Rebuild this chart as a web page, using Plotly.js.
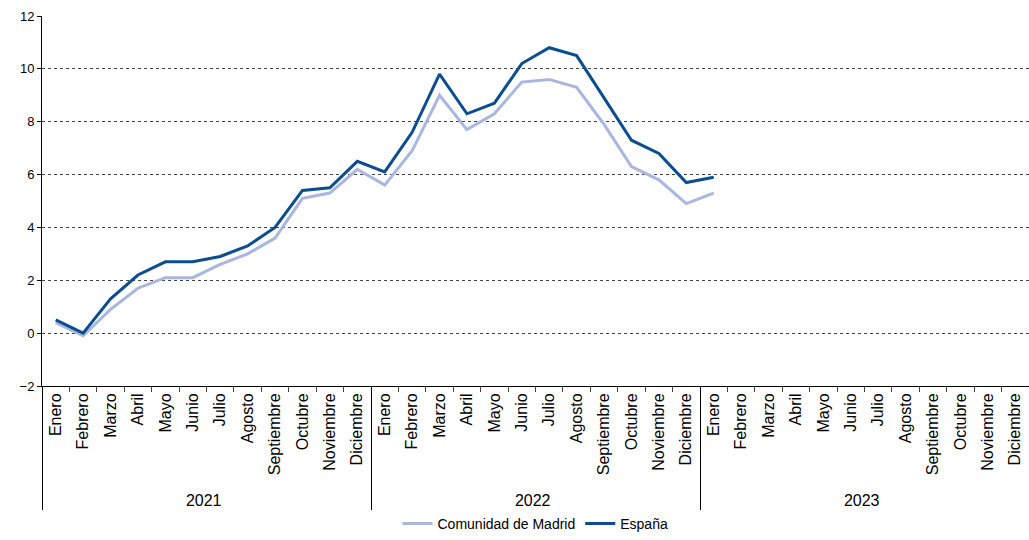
<html><head><script src="https://cdn.plot.ly/plotly-3.0.1.min.js"></script></head><body style="margin:0">
<div id="c" style="width:1029px;height:540px"></div>
<script>
const years=["2021","2022","2023"];
const months=["Enero","Febrero","Marzo","Abril","Mayo","Junio","Julio","Agosto","Septiembre","Octubre","Noviembre","Diciembre"];
const espana=[0.5,0.0,1.3,2.2,2.7,2.7,2.9,3.3,4.0,5.4,5.5,6.5,6.1,7.6,9.8,8.3,8.7,10.2,10.8,10.5,8.9,7.3,6.8,5.7,5.9];
const madrid=[0.4,-0.1,0.9,1.7,2.1,2.1,2.6,3.0,3.6,5.1,5.3,6.2,5.6,6.9,9.0,7.7,8.3,9.5,9.6,9.3,7.9,6.3,5.8,4.9,5.3];
const yr=[],mo=[];
years.forEach(y=>months.forEach(m=>{yr.push(y);mo.push(m);}));
const xs=n=>[yr.slice(0,n),mo.slice(0,n)];
const traces=[
 {x:[yr,mo],y:yr.map(()=>null),showlegend:false,hoverinfo:'skip',mode:'lines'},
 {x:xs(madrid.length),y:madrid,name:'Comunidad de Madrid',mode:'lines',line:{color:'#a9b6dd',width:3}},
 {x:xs(espana.length),y:espana,name:'España',mode:'lines',line:{color:'#0b4d8e',width:3}}
];
Plotly.newPlot('c',traces,{
 width:1029,height:540,margin:{l:42,r:0,t:16,b:154,autoexpand:false},
 paper_bgcolor:'white',plot_bgcolor:'white',
 font:{family:'Liberation Sans, Arial',size:14,color:'#000'},
 xaxis:{type:'multicategory',automargin:false,tickangle:-90,tickfont:{size:16},showline:true,linecolor:'#000',showgrid:false,ticks:'outside',showdividers:true,dividercolor:'#000',dividerwidth:1,range:[-0.5,35.5]},
 yaxis:{automargin:false,range:[-2,12],dtick:2,tickfont:{size:13},showline:true,linecolor:'#000',gridcolor:'#444',griddash:'dot',gridwidth:1,zeroline:false,ticks:'outside',ticklen:4,tickcolor:'#000'},
 legend:{orientation:'h',x:0.5,xanchor:'center',yref:'container',y:0.0,yanchor:'bottom',font:{size:14},bgcolor:'rgba(0,0,0,0)'}
},{staticPlot:true});
</script></body></html>
